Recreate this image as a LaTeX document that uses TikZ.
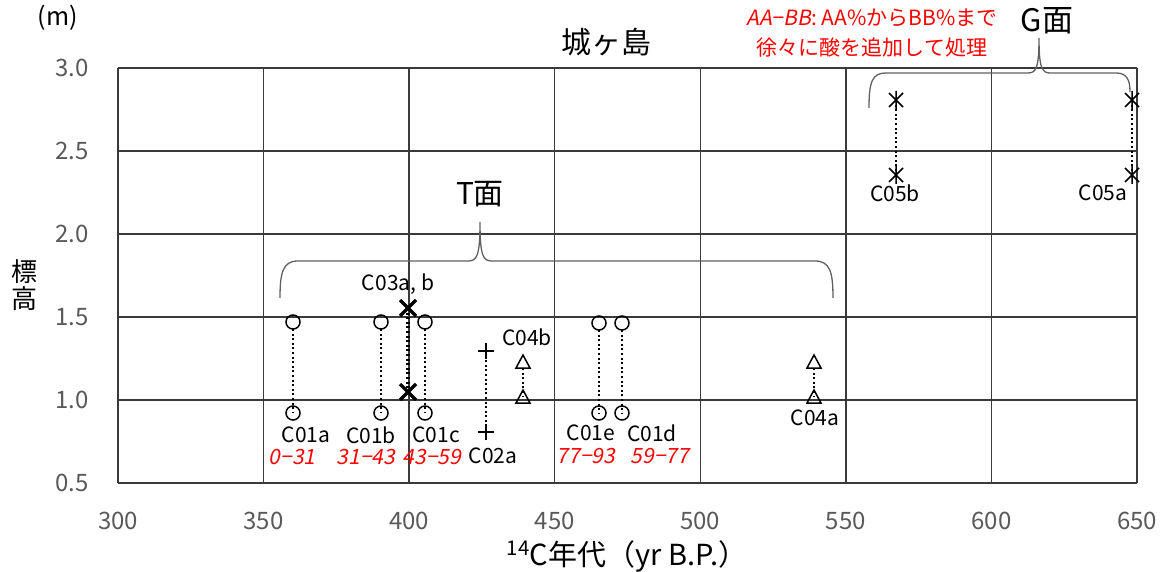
\documentclass[tikz,border=0pt]{standalone}
\usepackage{fontspec}
\setmainfont{Noto Sans CJK JP}
\newfontfamily\jpit[FakeSlant=0.2]{Noto Sans CJK JP}
\definecolor{gridc}{HTML}{3A3A3A}
\definecolor{tickc}{HTML}{595959}
\definecolor{bracec}{HTML}{606060}
\definecolor{redc}{HTML}{FF0000}
\tikzset{
  gridline/.style={draw=gridc,line width=1.3pt},
  ticklab/.style={text=tickc,font=\fontsize{24}{28}\selectfont,inner sep=0pt},
  lab/.style={text=black,font=\fontsize{21}{24}\selectfont,inner sep=0pt},
  rlab/.style={text=redc,font=\jpit\fontsize{21}{24}\selectfont,inner sep=0pt},
  dotline/.style={draw=black,line width=2pt,dash pattern=on 2pt off 2.6pt},
  mk/.style={draw=black,line width=1.5pt},
  bracepath/.style={draw=bracec,line width=1.3pt},
  circmark/.pic={\draw[mk] (0,0) circle (7);},
  xmark/.pic={\draw[draw=black,line width=3.2pt] (-8,-8)--(8,8) (-8,8)--(8,-8);},
  plusmark/.pic={\draw[mk] (-8,0)--(8,0) (0,-8)--(0,8);},
  trimark/.pic={\draw[mk,line join=miter] (-7,6)--(0,-7)--(7,6)--cycle;},
  astmark/.pic={\draw[mk] (-7,-7)--(7,7) (-7,7)--(7,-7) (0,-9)--(0,9);}
}
\begin{document}
\begin{tikzpicture}[x=1pt,y=-1pt]
\useasboundingbox (0,0) rectangle (1168,572);
% grid
\foreach \i in {0,...,7}{
  \draw[gridline] ({118+\i*145.571},68) -- ({118+\i*145.571},483);
  \pgfmathtruncatemacro{\lab}{300+50*\i}
  \node[ticklab] (xt\i) at ({118+\i*145.571},521) {\lab};
}
\foreach \j/\l in {0/3.0,1/2.5,2/2.0,3/1.5,4/1.0,5/0.5}{
  \draw[gridline] (118,{68+\j*83}) -- (1137,{68+\j*83});
  \node[ticklab,anchor=east] (yt\j) at (89,{68+\j*83}) {\l};
}
% axis titles
\node[text=black,font=\fontsize{25}{28}\selectfont,inner sep=0pt] (unit) at (58,18) {(m)};
\node[text=black,font=\fontsize{26}{28}\selectfont,inner sep=0pt,align=center] (ylab) at (24,285) {標\\[-1pt]高};
\node[text=black,font=\fontsize{29}{32}\selectfont,inner sep=0pt] (xlab) at (627,556) {\textsuperscript{14}C年代（yr B.P.）};
\node[text=black,font=\fontsize{30}{34}\selectfont,inner sep=0pt] (title) at (606,42) {城ヶ島};
% red note
\node[text=redc,font=\fontsize{21}{24}\selectfont,inner sep=0pt] (note1) at (872,18) {{\jpit AA−BB}: AA\%からBB\%まで};
\node[text=redc,font=\fontsize{21}{24}\selectfont,inner sep=0pt] (note2) at (872,48) {徐々に酸を追加して処理};
% braces
\draw[bracepath] (280,298) .. controls (280,272) and (283,261) .. (298,261) -- (468,261)
  .. controls (477,261) and (480,256) .. (480,222)
  .. controls (480,256) and (483,261) .. (492,261) -- (815,261)
  .. controls (830,261) and (833,272) .. (833,298);
\node[text=black,font=\fontsize{30}{34}\selectfont,inner sep=0pt] (tmen) at (480,194) {T面};
\draw[bracepath] (869,108) .. controls (869,82) and (872,73) .. (886,73) -- (1028,73)
  .. controls (1036,73) and (1039,68) .. (1039,38)
  .. controls (1039,68) and (1042,73) .. (1050,73) -- (1116,73)
  .. controls (1127,73) and (1130,80) .. (1130,92);
\node[text=black,font=\fontsize{31}{34}\selectfont,inner sep=0pt] (gmen) at (1047,21) {G面};
% marker coordinates
\coordinate (c01a-t) at (293,322); \coordinate (c01a-b) at (293,413);
\coordinate (c01b-t) at (381,322); \coordinate (c01b-b) at (381,413);
\coordinate (c01c-t) at (425,322); \coordinate (c01c-b) at (425,413);
\coordinate (c01e-t) at (599,323); \coordinate (c01e-b) at (599,413);
\coordinate (c01d-t) at (622,323); \coordinate (c01d-b) at (622,413);
\coordinate (c03-t) at (408,308); \coordinate (c03-b) at (408,392);
\coordinate (c02a-t) at (486,351); \coordinate (c02a-b) at (486,432);
\coordinate (c04b-t) at (523,362); \coordinate (c04b-b) at (523,397);
\coordinate (c04a-t) at (814,362); \coordinate (c04a-b) at (814,397);
\coordinate (c05b-t) at (896,100); \coordinate (c05b-b) at (896,175);
\coordinate (c05a-t) at (1132,100); \coordinate (c05a-b) at (1132,175);
% dotted connectors
\foreach \n in {c01a,c01b,c01c,c01e,c01d}{
  \draw[dotline] ([yshift=-7pt]\n-t) -- (\n-b);
}
\draw[dotline] ([xshift=-1.3pt]c03-t) -- ([xshift=-1.3pt]c03-b);
\draw[dotline] ([xshift=1.3pt]c03-t) -- ([xshift=1.3pt]c03-b);
\draw[dotline] (c02a-t) -- (c02a-b);
\draw[dotline] ([yshift=-6pt]c04b-t) -- (c04b-b);
\draw[dotline] ([yshift=-6pt]c04a-t) -- (c04a-b);
\draw[dotline] (c05b-t) -- (c05b-b);
\draw[dotline] (c05a-t) -- (c05a-b);
% markers
\foreach \n in {c01a,c01b,c01c,c01e,c01d}{
  \pic at (\n-t) {circmark}; \pic at (\n-b) {circmark};
}
\pic at (c03-t) {xmark}; \pic at (c03-b) {xmark};
\pic at (c02a-t) {plusmark}; \pic at (c02a-b) {plusmark};
\pic at (c04b-t) {trimark}; \pic at (c04b-b) {trimark};
\pic at (c04a-t) {trimark}; \pic at (c04a-b) {trimark};
\pic at (c05b-t) {astmark}; \pic at (c05b-b) {astmark};
\pic at (c05a-t) {astmark}; \pic at (c05a-b) {astmark};
% labels
\node[lab] (l01a) at (306,435) {C01a};
\node[lab] (l01b) at (371,435) {C01b};
\node[lab] (l01c) at (436,435) {C01c};
\node[lab] (l02a) at (493,456) {C02a};
\node[lab] (l04b) at (527,337) {C04b};
\node[lab] (l01e) at (591,433) {C01e};
\node[lab] (l01d) at (652,433) {C01d};
\node[lab] (l04a) at (815,418) {C04a};
\node[lab] (l05b) at (895,193) {C05b};
\node[lab] (l05a) at (1103,193) {C05a};
\node[lab] (l03) at (398,284) {C03a, b};
\node[rlab] (r01a) at (292,457) {0−31};
\node[rlab] (r01b) at (366,457) {31−43};
\node[rlab] (r01c) at (432,457) {43−59};
\node[rlab] (r01e) at (586,456) {77−93};
\node[rlab] (r01d) at (660,456) {59−77};
\end{tikzpicture}
\end{document}
